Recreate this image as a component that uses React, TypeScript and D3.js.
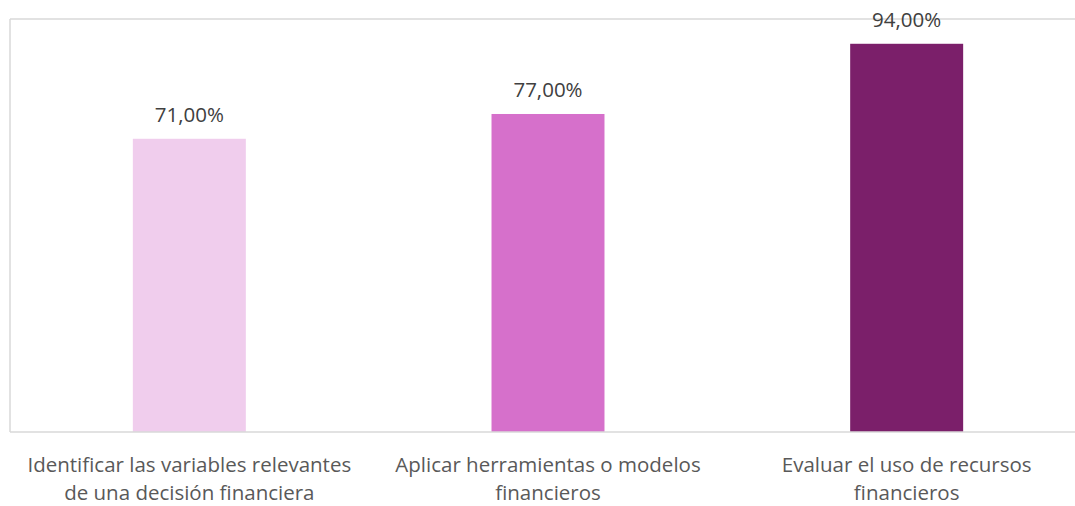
import React, { useEffect, useRef } from 'react';
import * as d3 from 'd3';

const categories = [
  ['Identificar las variables relevantes', 'de una decisión financiera'],
  ['Aplicar herramientas o modelos', 'financieros'],
  ['Evaluar el uso de recursos', 'financieros'],
];
const values = [0.71, 0.77, 0.94];
const colors = ['#F0CDED', '#D670CB', '#7B1F6A'];

const width = 1075;
const height = 506;

export default function App() {
  const ref = useRef<SVGSVGElement>(null);

  useEffect(() => {
    const svg = d3.select(ref.current);
    svg.selectAll('*').remove();

    const left = 10, right = 1086, top = 19, bottom = 432;
    const ids = categories.map((_, i) => String(i));
    const x = d3.scaleBand().domain(ids).range([left, right]).paddingInner(0.685).paddingOuter(0.3425);
    const y = d3.scaleLinear().domain([0, 1]).range([bottom, top]);

    // top gridline (100%)
    svg.append('line')
      .attr('x1', left).attr('x2', width)
      .attr('y1', y(1)).attr('y2', y(1))
      .attr('stroke', '#d9d9d9').attr('stroke-width', 1.5);

    svg.append('line')
      .attr('x1', left).attr('x2', left)
      .attr('y1', y(1)).attr('y2', bottom)
      .attr('stroke', '#d9d9d9').attr('stroke-width', 1.5);

    svg.selectAll('rect.bar')
      .data(values)
      .join('rect')
      .attr('class', 'bar')
      .attr('x', (_, i) => x(ids[i])!)
      .attr('width', x.bandwidth())
      .attr('y', d => y(d))
      .attr('height', d => bottom - y(d))
      .attr('fill', (_, i) => colors[i]);

    svg.append('line')
      .attr('x1', left).attr('x2', width)
      .attr('y1', bottom).attr('y2', bottom)
      .attr('stroke', '#d9d9d9').attr('stroke-width', 1.5);

    const fmt = (v: number) => (v * 100).toFixed(2).replace('.', ',') + '%';

    svg.selectAll('text.val')
      .data(values)
      .join('text')
      .attr('class', 'val')
      .attr('x', (_, i) => x(ids[i])! + x.bandwidth() / 2)
      .attr('y', d => y(d) - 17)
      .attr('text-anchor', 'middle')
      .attr('font-family', 'Open Sans')
      .attr('font-size', 20.5)
      .attr('fill', '#404040')
      .text(d => fmt(d));

    const g = svg.selectAll('text.cat')
      .data(categories)
      .join('text')
      .attr('class', 'cat')
      .attr('text-anchor', 'middle')
      .attr('font-family', 'Open Sans')
      .attr('font-size', 20.5)
      .attr('fill', '#595959');
    g.each(function (lines, i) {
      const cx = x(ids[i])! + x.bandwidth() / 2;
      d3.select(this).selectAll('tspan')
        .data(lines)
        .join('tspan')
        .attr('x', cx)
        .attr('y', (_, j) => 472 + j * 28)
        .text(l => l);
    });
  }, []);

  return (
    <svg ref={ref} width={width} height={height} style={{ position: 'absolute', left: 0, top: 0 }} />
  );
}
